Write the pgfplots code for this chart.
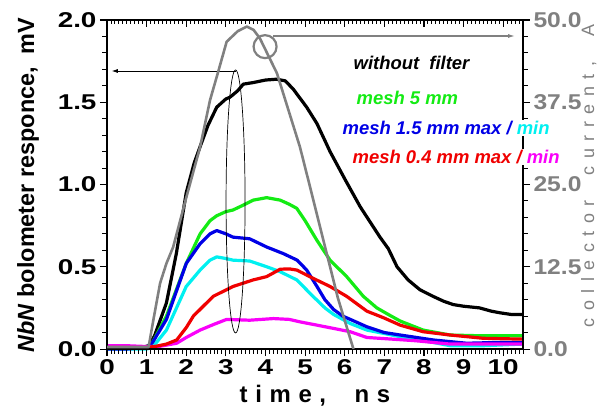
\documentclass[border=0pt]{standalone}
\usepackage{fontspec}
\setmainfont{Liberation Sans}
\usepackage{graphicx}
\usepackage{pgfplots}
\pgfplotsset{compat=1.18}
\usetikzlibrary{arrows.meta}
\definecolor{cgreen}{RGB}{20,235,20}
\definecolor{cblue}{RGB}{0,0,230}
\definecolor{ccyan}{RGB}{0,240,240}
\definecolor{cred}{RGB}{240,0,0}
\definecolor{cmag}{RGB}{250,0,250}
\definecolor{cgray}{RGB}{128,128,128}
\begin{document}
\begin{tikzpicture}
\pgfplotsset{
  common/.style={scale only axis, width=416bp, height=329bp, xmin=0, xmax=10.5,
    at={(0,0)}, anchor=south west, clip=false,
    major tick length=7bp, minor tick length=4.5bp,
    axis line style={line width=1.1bp},
    every tick/.style={line width=1bp, black},
    every minor tick/.style={line width=0.9bp, black},
    /pgf/number format/assume math mode=true,
    tick label style={font=\bfseries\fontsize{21.5}{21.5}\selectfont},
  }
}
% main axis
\begin{axis}[common, ymin=0, ymax=2,
  xtick pos=bottom, ytick pos=left, tick align=outside,
  xtick={0,1,...,10}, ytick={0,0.5,1,1.5,2},
  minor xtick={0,0.1,...,10.5}, minor ytick={0,0.1,...,2.01},
  xticklabel={\scalebox{1.3}[1]{\pgfmathprintnumber{\tick}}},
  yticklabel={\scalebox{1.3}[1]{\pgfmathprintnumber[fixed,fixed zerofill,precision=1]{\tick}}},
  xlabel={\addfontfeature{LetterSpace=32}time,\ \ ns},
  xlabel style={font=\bfseries\fontsize{24}{24}\selectfont, at={(axis description cs:0.5,-0.143)}, anchor=center},
  ylabel={\textit{NbN} bolometer responce,\ \ mV},
  ylabel style={font=\bfseries\fontsize{23.5}{23.5}\selectfont, at={(axis description cs:-0.19,0.4985)}, anchor=center, rotate=0},
  every axis plot/.append style={line width=3.2bp, line join=round},
]
\addplot[black] coordinates {(0,0.01)(0.5,0.01)(0.9,0.01)(1.05,0.02)(1.2,0.08)(1.5,0.28)(1.75,0.58)(2.0,0.95)(2.2,1.13)(2.35,1.23)(2.55,1.36)(2.77,1.47)(3.0,1.52)(3.1,1.53)(3.3,1.57)(3.44,1.61)(3.7,1.62)(4.0,1.635)(4.28,1.64)(4.5,1.63)(4.7,1.58)(5.04,1.47)(5.3,1.37)(5.63,1.20)(6.01,1.03)(6.39,0.865)(6.89,0.68)(7.1,0.61)(7.32,0.50)(7.6,0.42)(7.9,0.36)(8.23,0.32)(8.5,0.29)(8.74,0.27)(9.0,0.26)(9.4,0.25)(9.7,0.23)(9.92,0.22)(10.2,0.21)(10.5,0.21)};
\addplot[cgreen] coordinates {(0,0.01)(1.0,0.01)(1.15,0.04)(1.5,0.2)(2.0,0.52)(2.35,0.70)(2.6,0.78)(2.77,0.81)(3.0,0.835)(3.18,0.845)(3.4,0.87)(3.69,0.905)(4.03,0.92)(4.37,0.905)(4.6,0.88)(4.79,0.855)(5.0,0.78)(5.3,0.66)(5.63,0.54)(6.05,0.44)(6.47,0.32)(6.81,0.25)(7.1,0.21)(7.4,0.17)(7.98,0.115)(8.66,0.085)(9.5,0.08)(10.5,0.08)};
\addplot[ccyan] coordinates {(0,0.0)(1.0,0.0)(1.15,0.01)(1.5,0.115)(2.0,0.38)(2.35,0.48)(2.6,0.54)(2.77,0.56)(3.0,0.55)(3.18,0.54)(3.6,0.535)(4.03,0.50)(4.37,0.47)(4.79,0.42)(5.2,0.32)(5.5,0.25)(5.72,0.21)(6.14,0.155)(6.56,0.115)(7.4,0.075)(8.23,0.04)(8.66,0.02)(9.5,0.02)(10.5,0.03)};
\addplot[cblue] coordinates {(0,0.0)(0.5,0.0)(1.0,0.01)(1.15,0.04)(1.5,0.18)(1.75,0.35)(2.0,0.52)(2.35,0.64)(2.6,0.70)(2.77,0.72)(3.0,0.70)(3.18,0.68)(3.6,0.67)(4.03,0.62)(4.45,0.58)(4.8,0.54)(5.04,0.48)(5.3,0.38)(5.5,0.30)(5.72,0.24)(5.95,0.20)(6.14,0.18)(6.56,0.135)(7.0,0.10)(7.4,0.085)(8.23,0.055)(9.08,0.035)(9.9,0.04)(10.5,0.04)};
\addplot[cmag] coordinates {(0,0.02)(0.5,0.02)(1.0,0.015)(1.3,0.015)(1.76,0.035)(2.0,0.07)(2.35,0.115)(2.7,0.15)(3.02,0.18)(3.6,0.175)(4.2,0.185)(4.6,0.18)(4.87,0.165)(5.3,0.145)(5.72,0.125)(6.14,0.105)(6.56,0.07)(7.2,0.06)(7.8,0.05)(8.66,0.03)(9.5,0.03)(10.5,0.03)};
\addplot[cred] coordinates {(0,0.01)(1.0,0.01)(1.21,0.015)(1.5,0.03)(1.76,0.055)(2.0,0.13)(2.18,0.20)(2.68,0.32)(3.18,0.38)(3.69,0.42)(4.03,0.44)(4.37,0.485)(4.6,0.487)(4.79,0.48)(5.2,0.43)(5.63,0.38)(6.05,0.32)(6.56,0.23)(6.98,0.19)(7.4,0.145)(7.98,0.105)(8.66,0.085)(9.5,0.065)(10.5,0.06)};
\draw[black, line width=0.7bp] (axis cs:3.245,0.897) ellipse [x radius=9.5bp, y radius=131.5bp];
\draw[black, line width=0.8bp, -{Latex[length=6bp,width=4bp]}] (axis cs:3.26,1.69) -- (axis cs:0.12,1.69);
\end{axis}
% top axis ticks
\begin{axis}[common, ymin=0, ymax=2,
  xtick pos=top, tick align=inside, ytick=\empty,
  xtick={0,1,...,10}, minor xtick={0,0.1,...,10.5}, xticklabels={},
]
\end{axis}
% right axis
\begin{axis}[common, ymin=0, ymax=50,
  ytick pos=right, xtick=\empty, tick align=outside,
  ytick={0,12.5,25,37.5,50}, minor ytick={0,2.5,...,50},
  yticklabel={\scalebox{1.15}[1]{\pgfmathprintnumber[fixed,fixed zerofill,precision=1]{\tick}}},
  yticklabel style={color=cgray},
  ylabel={\addfontfeature{LetterSpace=42}collector\ \ current,\ \ A},
  ylabel style={color=cgray, font=\fontsize{18}{18}\selectfont, inner sep=0pt, at={(axis description cs:1.158,0.526)}, anchor=center, rotate=0},
]
\addplot[cgray, line width=2.6bp, line join=round] coordinates {(0,0.3)(1.05,0.3)(1.17,4.4)(1.34,10)(1.5,13)(1.67,15.5)(2.0,23)(2.35,30.7)(2.6,37.8)(2.8,42)(3.02,46.7)(3.3,48.3)(3.53,49)(3.7,48.5)(3.86,47.2)(4.29,41.9)(4.87,30.7)(5.08,25.7)(5.45,16.8)(5.83,7.7)(6.22,0)};
\draw[cgray, line width=2.2bp] (axis cs:3.99,45.95) circle [radius=11.5bp];
\draw[cgray, line width=1.2bp, -{Latex[length=7bp,width=4bp]}] (axis cs:4.2,47.57) -- (axis cs:10.3,47.57);
\end{axis}
% tick combs (plot box: 416bp x 329bp, lower left at origin)
\begin{scope}[line width=0.9bp, black]
\foreach \i in {0,...,105} {
  \draw (\i*3.96190bp,0) -- ++(0,-4.5bp);
  \draw (\i*3.96190bp,329bp) -- ++(0,-4.5bp);
}
\foreach \i in {0,...,10} {
  \draw (\i*39.6190bp,0) -- ++(0,-7bp);
  \draw (\i*39.6190bp,329bp) -- ++(0,-7bp);
}
\foreach \j in {0,...,20} {
  \draw (0,\j*16.45bp) -- ++(-4.5bp,0);
  \draw (416bp,\j*16.45bp) -- ++(4.5bp,0);
}
\foreach \j in {0,...,4} {
  \draw (0,\j*82.25bp) -- ++(-7bp,0);
  \draw (416bp,\j*82.25bp) -- ++(7bp,0);
}
\end{scope}
\begin{scope}[every node/.style={font=\bfseries\itshape\fontsize{18.5}{18.5}\selectfont, anchor=west, inner sep=1.5bp}]
\node[black] at (245bp,286bp) {without\ \ filter};
\node[cgreen] at (248bp,251bp) {mesh 5 mm};
\node[fill=white] at (234bp,221bp) {\textcolor{cblue}{mesh 1.5 mm max /} \textcolor{ccyan}{min}};
\node[fill=white] at (244bp,192bp) {\textcolor{cred}{mesh 0.4 mm max /} \textcolor{cmag}{min}};
\end{scope}
\path (-107bp,-61bp) rectangle (491bp,349bp);
\end{tikzpicture}
\end{document}
